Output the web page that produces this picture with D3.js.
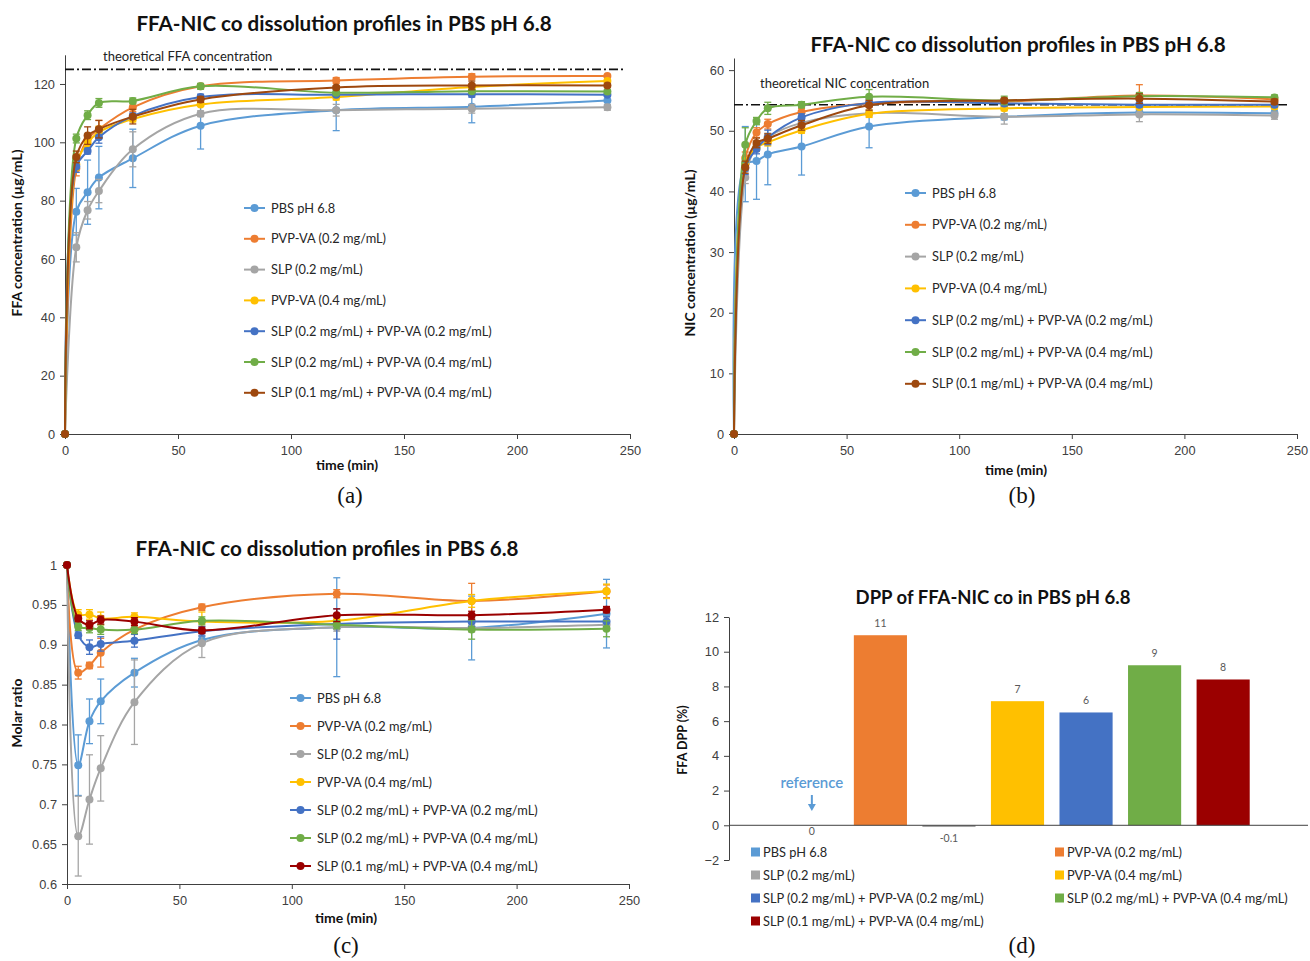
<!DOCTYPE html>
<html>
<head>
<meta charset="utf-8">
<script src="https://cdn.jsdelivr.net/npm/d3@7"></script>
<style>
  body { margin: 0; background: #fff; }
  svg { font-family: Lato, "Noto Sans", sans-serif; }
  .tick text { fill: #404040; font-size: 12.8px; }
  .axis path, .axis line { stroke: #404040; }
</style>
</head>
<body>
<svg width="1310" height="961"></svg>
<script>
// ---- data ----
var times = [0, 5, 10, 15, 30, 60, 120, 180, 240];
var seriesNames = ["PBS pH 6.8", "PVP-VA (0.2 mg/mL)", "SLP (0.2 mg/mL)", "PVP-VA (0.4 mg/mL)",
  "SLP (0.2 mg/mL) + PVP-VA (0.2 mg/mL)", "SLP (0.2 mg/mL) + PVP-VA (0.4 mg/mL)",
  "SLP (0.1 mg/mL) + PVP-VA (0.4 mg/mL)"];
var lineColors = ["#5B9BD5", "#ED7D31", "#A5A5A5", "#FFC000", "#4472C4", "#70AD47", "#9E480E"];
var ratioColors = ["#5B9BD5", "#ED7D31", "#A5A5A5", "#FFC000", "#4472C4", "#70AD47", "#9B0000"];

// (a) FFA concentration (µg/mL)
var ffaMeans = [
  [0, 76.2, 82.9, 87.9, 94.5, 105.7, 111.0, 112.2, 114.3],
  [0, 91.0, 101.0, 104.5, 112.0, 119.2, 121.2, 122.5, 122.7],
  [0, 64.0, 76.7, 83.3, 97.6, 109.8, 111.0, 111.5, 112.0],
  [0, 92.5, 99.7, 103.5, 108.0, 113.0, 115.5, 119.0, 121.0],
  [0, 91.7, 97.0, 101.7, 109.0, 115.5, 116.3, 116.5, 116.3],
  [0, 101.3, 109.3, 113.5, 114.2, 119.2, 117.0, 117.5, 117.4],
  [0, 95.0, 102.3, 104.5, 108.8, 114.7, 118.8, 119.5, 119.5]
];
var ffaErrors = [
  [0, 8, 11, 10.7, 10, 8, 7, 5.5, 1.5],
  [0, 2.5, 1, 3, 1.5, 0.5, 1, 1, 0.5],
  [0, 5, 3, 4, 6, 1, 2, 1.5, 1],
  [0, 2, 1.5, 2, 1, 0.5, 1, 0.5, 0.5],
  [0, 2, 1, 2, 1, 1, 0.5, 1, 0.5],
  [0, 1.5, 1.5, 1.5, 1, 1, 0.5, 0.5, 0.5],
  [0, 2, 3, 3, 2.5, 1, 0.5, 1.5, 0.5]
];
var ffaTheoretical = 125;

// (b) NIC concentration (µg/mL)
var nicMeans = [
  [0, 44.5, 45.0, 46.1, 47.4, 50.7, 52.3, 53.0, 52.9],
  [0, 45.5, 49.7, 51.1, 53.1, 54.5, 54.8, 55.8, 55.2],
  [0, 42.3, 47.5, 49.0, 51.3, 52.9, 52.3, 52.7, 52.5],
  [0, 44.5, 47.2, 48.1, 50.1, 52.8, 53.7, 53.9, 54.0],
  [0, 43.8, 47.0, 48.9, 52.2, 54.6, 54.5, 54.3, 54.3],
  [0, 47.7, 51.6, 53.7, 54.3, 55.6, 55.0, 55.7, 55.5],
  [0, 44.0, 48.0, 48.7, 50.9, 54.2, 55.0, 55.3, 54.8]
];
var nicErrors = [
  [0, 6.2, 6.3, 5, 4.7, 3.5, 0.5, 0.5, 0.5],
  [0, 1, 0.8, 0.8, 0.6, 0.6, 0.4, 1.8, 0.5],
  [0, 1, 0.6, 0.6, 0.5, 0.5, 1.2, 1.2, 0.6],
  [0, 1, 0.6, 0.6, 0.5, 0.6, 0.4, 0.4, 0.4],
  [0, 1, 0.8, 1.2, 0.6, 0.6, 0.4, 0.4, 0.4],
  [0, 2.8, 0.6, 1, 0.5, 1.2, 0.7, 0.6, 0.4],
  [0, 1, 0.8, 0.8, 0.8, 0.8, 0.4, 0.8, 0.4]
];
var nicTheoretical = 54.3;

// (c) molar ratio
var ratioMeans = [
  [1, 0.749, 0.804, 0.829, 0.865, 0.906, 0.922, 0.921, 0.939],
  [1, 0.865, 0.874, 0.890, 0.919, 0.947, 0.964, 0.955, 0.967],
  [1, 0.660, 0.706, 0.745, 0.828, 0.902, 0.922, 0.921, 0.925],
  [1, 0.938, 0.938, 0.933, 0.935, 0.929, 0.930, 0.955, 0.967],
  [1, 0.912, 0.897, 0.901, 0.905, 0.917, 0.926, 0.929, 0.929],
  [1, 0.923, 0.921, 0.919, 0.919, 0.930, 0.925, 0.919, 0.920],
  [1, 0.933, 0.925, 0.931, 0.929, 0.918, 0.937, 0.937, 0.944]
];
var ratioErrors = [
  [0, 0.038, 0.028, 0.028, 0.018, 0.005, 0.062, 0.04, 0.043],
  [0, 0.008, 0.004, 0.018, 0.006, 0.004, 0.005, 0.022, 0.008],
  [0, 0.05, 0.056, 0.041, 0.053, 0.018, 0.005, 0.005, 0.004],
  [0, 0.006, 0.006, 0.008, 0.005, 0.012, 0.005, 0.008, 0.009],
  [0, 0.004, 0.009, 0.009, 0.008, 0.006, 0.019, 0.006, 0.006],
  [0, 0.005, 0.006, 0.006, 0.005, 0.005, 0.005, 0.012, 0.01],
  [0, 0.004, 0.005, 0.005, 0.005, 0.004, 0.008, 0.005, 0.004]
];

// (d) FFA DPP (%)
var dppValues = [0, 10.95, -0.1, 7.15, 6.5, 9.22, 8.4];
var dppLabels = ["0", "11", "-0.1", "7", "6", "9", "8"];
var xTicks = [0, 50, 100, 150, 200, 250];

var svg = d3.select("svg");

function linePanel(opt){
  var g = svg.append("g");
  var x = d3.scaleLinear().domain([0, 250]).range(opt.xRange);
  var y = d3.scaleLinear().domain(opt.yDomain).range(opt.yRange);

  g.append("g").attr("class", "axis")
    .attr("transform", "translate(0," + opt.yRange[0] + ")")
    .call(d3.axisBottom(x).tickValues(xTicks).tickSize(5).tickSizeOuter(0))
    .selectAll("text").attr("dy", "1.05em");
  g.append("g").attr("class", "axis")
    .attr("transform", "translate(" + opt.xRange[0] + ",0)")
    .call(d3.axisLeft(y).tickValues(opt.yTicks).tickSize(5).tickSizeOuter(0)
      .tickFormat(opt.yFormat || d3.format("d")))
    .selectAll("text").attr("dx", "-2px");

  if (opt.theo != null){
    g.append("line")
      .attr("x1", opt.xRange[0]).attr("x2", opt.theoEnd)
      .attr("y1", y(opt.theo)).attr("y2", y(opt.theo))
      .attr("stroke", "#111").attr("stroke-width", 1.6)
      .attr("stroke-dasharray", "9,3,2,3");
    g.append("text").attr("x", opt.theoTextX).attr("y", opt.theoTextY)
      .attr("font-size", 13).attr("fill", "#222").text(opt.theoText);
  }

  var line = d3.line()
    .x(function(d){ return x(d[0]); })
    .y(function(d){ return y(d[1]); })
    .curve(d3.curveCatmullRom.alpha(0.5));

  opt.means.forEach(function(row, i){
    var c = opt.colors[i];
    var pts = times.map(function(t, j){ return [t, row[j], opt.errors[i][j]]; });
    var sg = g.append("g");
    sg.append("path").datum(pts).attr("d", line)
      .attr("fill", "none").attr("stroke", c).attr("stroke-width", 2);
    var eb = sg.selectAll(".eb").data(pts.filter(function(d){ return d[2] > 0; }))
      .enter().append("g");
    eb.append("line")
      .attr("x1", function(d){ return x(d[0]); }).attr("x2", function(d){ return x(d[0]); })
      .attr("y1", function(d){ return y(d[1] - d[2]); }).attr("y2", function(d){ return y(d[1] + d[2]); })
      .attr("stroke", c).attr("stroke-width", 1.3);
    [-1, 1].forEach(function(s){
      eb.append("line")
        .attr("x1", function(d){ return x(d[0]) - 3.5; }).attr("x2", function(d){ return x(d[0]) + 3.5; })
        .attr("y1", function(d){ return y(d[1] + s * d[2]); }).attr("y2", function(d){ return y(d[1] + s * d[2]); })
        .attr("stroke", c).attr("stroke-width", 1.3);
    });
    sg.selectAll("circle").data(pts).enter().append("circle")
      .attr("cx", function(d){ return x(d[0]); }).attr("cy", function(d){ return y(d[1]); })
      .attr("r", 4).attr("fill", c);
  });

  // legend
  seriesNames.forEach(function(name, i){
    var ly = opt.legY + i * opt.legStep;
    var lg = g.append("g");
    lg.append("line").attr("x1", opt.legX).attr("x2", opt.legX + 21)
      .attr("y1", ly).attr("y2", ly).attr("stroke", opt.colors[i]).attr("stroke-width", 2);
    lg.append("circle").attr("cx", opt.legX + 10.5).attr("cy", ly).attr("r", 4).attr("fill", opt.colors[i]);
    lg.append("text").attr("x", opt.legX + 27).attr("y", ly + 4.5)
      .attr("font-size", 12.8).attr("fill", "#262626").text(name);
  });

  svg.append("text").attr("x", opt.titleX).attr("y", opt.titleY)
    .attr("text-anchor", "middle").attr("font-weight", "bold").attr("font-size", 20.6)
    .attr("fill", "#111").text(opt.title);
  svg.append("text").attr("x", opt.xLabX).attr("y", opt.xLabY)
    .attr("text-anchor", "middle").attr("font-weight", "bold").attr("font-size", 14)
    .attr("fill", "#111").text("time (min)");
  svg.append("text")
    .attr("transform", "translate(" + opt.yLabX + "," + opt.yLabY + ")rotate(-90)")
    .attr("text-anchor", "middle").attr("font-weight", "bold").attr("font-size", 14)
    .attr("fill", "#111").text(opt.yLabel);
  svg.append("text").attr("x", opt.capX).attr("y", opt.capY)
    .attr("text-anchor", "middle").attr("font-family", "'Liberation Serif', serif")
    .attr("font-size", 23).attr("fill", "#111").text(opt.caption);
}

linePanel({
  xRange: [65, 630], yDomain: [0, 130], yRange: [434, 54.8], yTicks: d3.range(0, 121, 20),
  means: ffaMeans, errors: ffaErrors, colors: lineColors,
  theo: ffaTheoretical, theoEnd: 625, theoText: "theoretical FFA concentration", theoTextX: 103, theoTextY: 61,
  legX: 244, legY: 208, legStep: 30.8,
  title: "FFA-NIC co dissolution profiles in PBS pH 6.8", titleX: 344, titleY: 31,
  xLabX: 347, xLabY: 470, yLabX: 22, yLabY: 233, yLabel: "FFA concentration (µg/mL)",
  caption: "(a)", capX: 350, capY: 503
});

linePanel({
  xRange: [734, 1297], yDomain: [0, 62], yRange: [434, 58], yTicks: d3.range(0, 61, 10),
  means: nicMeans, errors: nicErrors, colors: lineColors,
  theo: nicTheoretical, theoEnd: 1290, theoText: "theoretical NIC concentration", theoTextX: 760, theoTextY: 88,
  legX: 905, legY: 193, legStep: 31.8,
  title: "FFA-NIC co dissolution profiles in PBS pH 6.8", titleX: 1018, titleY: 52,
  xLabX: 1016, xLabY: 475, yLabX: 695, yLabY: 253, yLabel: "NIC concentration (µg/mL)",
  caption: "(b)", capX: 1022, capY: 503
});

linePanel({
  xRange: [67, 629], yDomain: [0.6, 1], yRange: [884, 565], yTicks: d3.range(0, 9).map(function(i){ return 0.6 + i * 0.05; }),
  yFormat: function(d){ return +d.toFixed(2) + ""; },
  means: ratioMeans, errors: ratioErrors, colors: ratioColors,
  theo: null,
  legX: 290, legY: 698, legStep: 28,
  title: "FFA-NIC co dissolution profiles in PBS 6.8", titleX: 327, titleY: 556,
  xLabX: 346, xLabY: 923, yLabX: 22, yLabY: 713, yLabel: "Molar ratio",
  caption: "(c)", capX: 346, capY: 953
});

// (d) bar chart
(function(){
  var g = svg.append("g");
  var y = d3.scaleLinear().domain([-2, 12]).range([860, 617]);
  var x = d3.scaleBand().domain(seriesNames).range([777.75, 1257.25]).paddingInner(0.225).paddingOuter(0.11);

  g.append("g").attr("class", "axis")
    .attr("transform", "translate(729,0)")
    .call(d3.axisLeft(y).tickValues(d3.range(-2, 13, 2)).tickSize(5).tickSizeOuter(0))
    .selectAll("text").attr("dx", "-2px");

  g.selectAll(".bar").data(dppValues).enter().append("rect")
    .attr("x", function(d, i){ return x(seriesNames[i]); })
    .attr("width", x.bandwidth())
    .attr("y", function(d){ return y(Math.max(0, d)); })
    .attr("height", function(d){ return Math.abs(y(d) - y(0)); })
    .attr("fill", function(d, i){ return ratioColors[i]; });

  g.append("line").attr("x1", 729).attr("x2", 1308).attr("y1", y(0)).attr("y2", y(0))
    .attr("stroke", "#404040").attr("stroke-width", 1);

  g.selectAll(".vl").data(dppValues).enter().append("text")
    .attr("x", function(d, i){ return x(seriesNames[i]) + x.bandwidth() / 2; })
    .attr("y", function(d){ return d > 0 ? y(d) - 8 : y(Math.min(0, d)) + (d < 0 ? 15 : 10); })
    .attr("text-anchor", "middle").attr("font-size", 10.5).attr("fill", "#595959")
    .text(function(d, i){ return dppLabels[i]; });

  var rx = x(seriesNames[0]) + x.bandwidth() / 2;
  g.append("text").attr("x", rx).attr("y", 788).attr("text-anchor", "middle")
    .attr("font-size", 15).attr("font-weight", 600).attr("fill", "#5B9BD5").text("reference");
  g.append("line").attr("x1", rx).attr("x2", rx).attr("y1", 795).attr("y2", 805)
    .attr("stroke", "#5B9BD5").attr("stroke-width", 2);
  g.append("path").attr("d", "M" + (rx - 4) + ",804L" + (rx + 4) + ",804L" + rx + ",811Z").attr("fill", "#5B9BD5");

  seriesNames.forEach(function(name, i){
    var lx = i % 2 === 0 ? 751 : 1055;
    var ly = 852 + Math.floor(i / 2) * 23;
    g.append("rect").attr("x", lx).attr("y", ly - 4.5).attr("width", 9).attr("height", 9).attr("fill", ratioColors[i]);
    g.append("text").attr("x", lx + 12).attr("y", ly + 4.5).attr("font-size", 12.8).attr("fill", "#262626").text(name);
  });

  svg.append("text").attr("x", 993).attr("y", 604).attr("text-anchor", "middle")
    .attr("font-weight", "bold").attr("font-size", 18.5).attr("fill", "#111").text("DPP of FFA-NIC co in PBS pH 6.8");
  svg.append("text").attr("transform", "translate(687,740)rotate(-90)").attr("text-anchor", "middle")
    .attr("font-weight", "bold").attr("font-size", 12.5).attr("fill", "#111").text("FFA DPP (%)");
  svg.append("text").attr("x", 1022).attr("y", 953).attr("text-anchor", "middle")
    .attr("font-family", "'Liberation Serif', serif").attr("font-size", 23).attr("fill", "#111").text("(d)");
})();
</script>
</body>
</html>
